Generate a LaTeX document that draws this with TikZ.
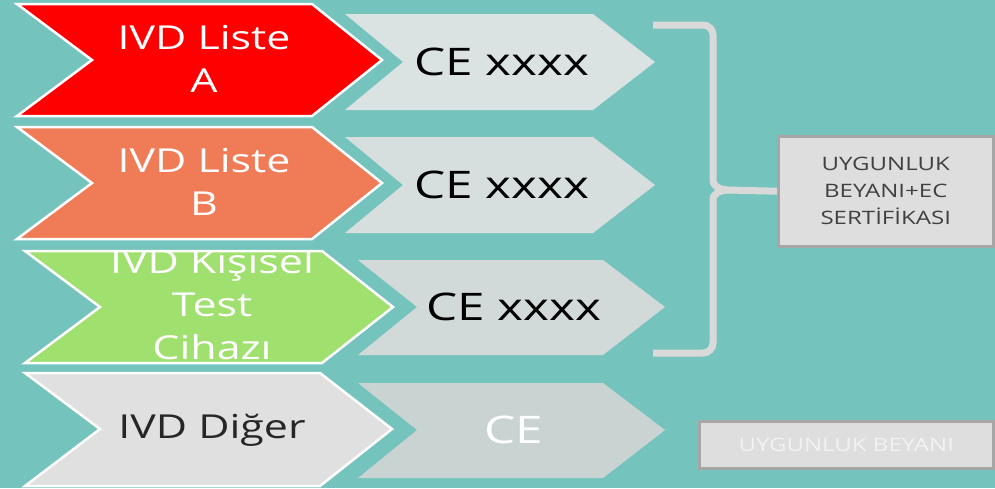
\documentclass[tikz,border=0pt]{standalone}
\usepackage{fontspec}
\setmainfont{Open Sans}
\newfontfamily\wf[FakeStretch=1.3]{Open Sans}
\definecolor{bg}{HTML}{75C3BD}
\definecolor{cred}{HTML}{FF0000}
\definecolor{corange}{HTML}{F07C57}
\definecolor{cgreen}{HTML}{A0E06E}
\definecolor{cgrey}{HTML}{E0E0E0}
\definecolor{ce1}{HTML}{DAE3E2}
\definecolor{ce2}{HTML}{D6DFDE}
\definecolor{ce3}{HTML}{D1DAD9}
\definecolor{ce4}{HTML}{C9D3D2}
\definecolor{bracec}{HTML}{D9D9D9}
\definecolor{boxfill}{HTML}{DEDEDE}
\definecolor{boxline}{HTML}{A6A6A6}
\definecolor{boxtext}{HTML}{404040}
\begin{document}
\begin{tikzpicture}[x=1pt,y=-1pt,
  outl/.style={draw=white,line width=2.5pt,line join=miter},
  lbl/.style={align=center,inner sep=0pt,font=\wf\fontsize{33}{43}\selectfont},
  celbl/.style={inner sep=0pt,font=\wf\fontsize{38}{44}\selectfont},
  infobox/.style={draw=boxline,line width=2.5pt,fill=boxfill,inner sep=0pt,anchor=north west},
  boxlbl/.style={align=center,inner sep=0pt,font=\wf\fontsize{18.5}{27}\selectfont},
  bracestyle/.style={draw=bracec,line width=7pt,line cap=butt}]
\fill[bg] (0,0) rectangle (995,488);
\useasboundingbox (0,0) rectangle (995,488);
% CE chevrons
\fill[ce1] (345,14) -- (593,14) -- (655,62) -- (593,110) -- (345,110) -- (403,62) -- cycle;
\fill[ce2] (345,137) -- (593,137) -- (655,185) -- (593,233) -- (345,233) -- (403,185) -- cycle;
\fill[ce3] (358,260) -- (603,260) -- (665,307) -- (603,355) -- (358,355) -- (417,307) -- cycle;
\fill[ce4] (358,383) -- (603,383) -- (665,430) -- (603,478) -- (358,478) -- (417,430) -- cycle;
% left chevrons
\filldraw[outl,fill=cred] (17,4) -- (312,4) -- (382,60) -- (312,116) -- (17,116) -- (92,60) -- cycle;
\filldraw[outl,fill=corange] (17,127) -- (312,127) -- (382,183) -- (312,239) -- (17,239) -- (92,183) -- cycle;
\filldraw[outl,fill=cgreen] (25,251) -- (322,251) -- (393,307) -- (322,363) -- (25,363) -- (100,307) -- cycle;
\filldraw[outl,fill=cgrey] (25,373) -- (320,373) -- (392,429) -- (320,486) -- (25,486) -- (100,429) -- cycle;
% labels
\node[lbl,text=white] (la) at (204,59) {IVD Liste\\A};
\node[lbl,text=white] (lb) at (204,182) {IVD Liste\\B};
\begin{scope}
\clip (25,252) -- (322,252) -- (393,307) -- (322,362) -- (25,362) -- (100,307) -- cycle;
\node[lbl,text=white] (lc) at (212,304) {IVD Kişisel\\Test\\Cihazı};
\end{scope}
\node[lbl,text=black!85] (ld) at (212,430) {IVD Diğer};
\node[celbl,text=black] (c1) at (502,62) {CE xxxx};
\node[celbl,text=black] (c2) at (502,185) {CE xxxx};
\node[celbl,text=black] (c3) at (514,307) {CE xxxx};
\node[celbl,text=white] (c4) at (514,430) {CE};
% boxes
\node[infobox,minimum width=215pt,minimum height=110pt] (b1) at (777,135) {};
\node[boxlbl,text=boxtext] (b1t) at (b1.center) {UYGUNLUK\\BEYANI+EC\\SERTİFİKASI};
\node[infobox,minimum width=294pt,minimum height=47pt] (b2) at (698,420) {};
\node[boxlbl,text=white!95!black] (b2t) at (b2.center) {UYGUNLUK BEYANI};
% brace
\coordinate (btop) at (653,25);
\coordinate (bbot) at (653,353);
\draw[bracestyle] (btop) -- (703,25) to[out=0,in=90] (713,35) -- (713,180)
  to[out=-90,in=180] (728,190) -- (b1.west);
\draw[bracestyle] (bbot) -- (703,353) to[out=0,in=-90] (713,343) -- (713,200)
  to[out=90,in=180] (728,190);
\end{tikzpicture}
\end{document}
